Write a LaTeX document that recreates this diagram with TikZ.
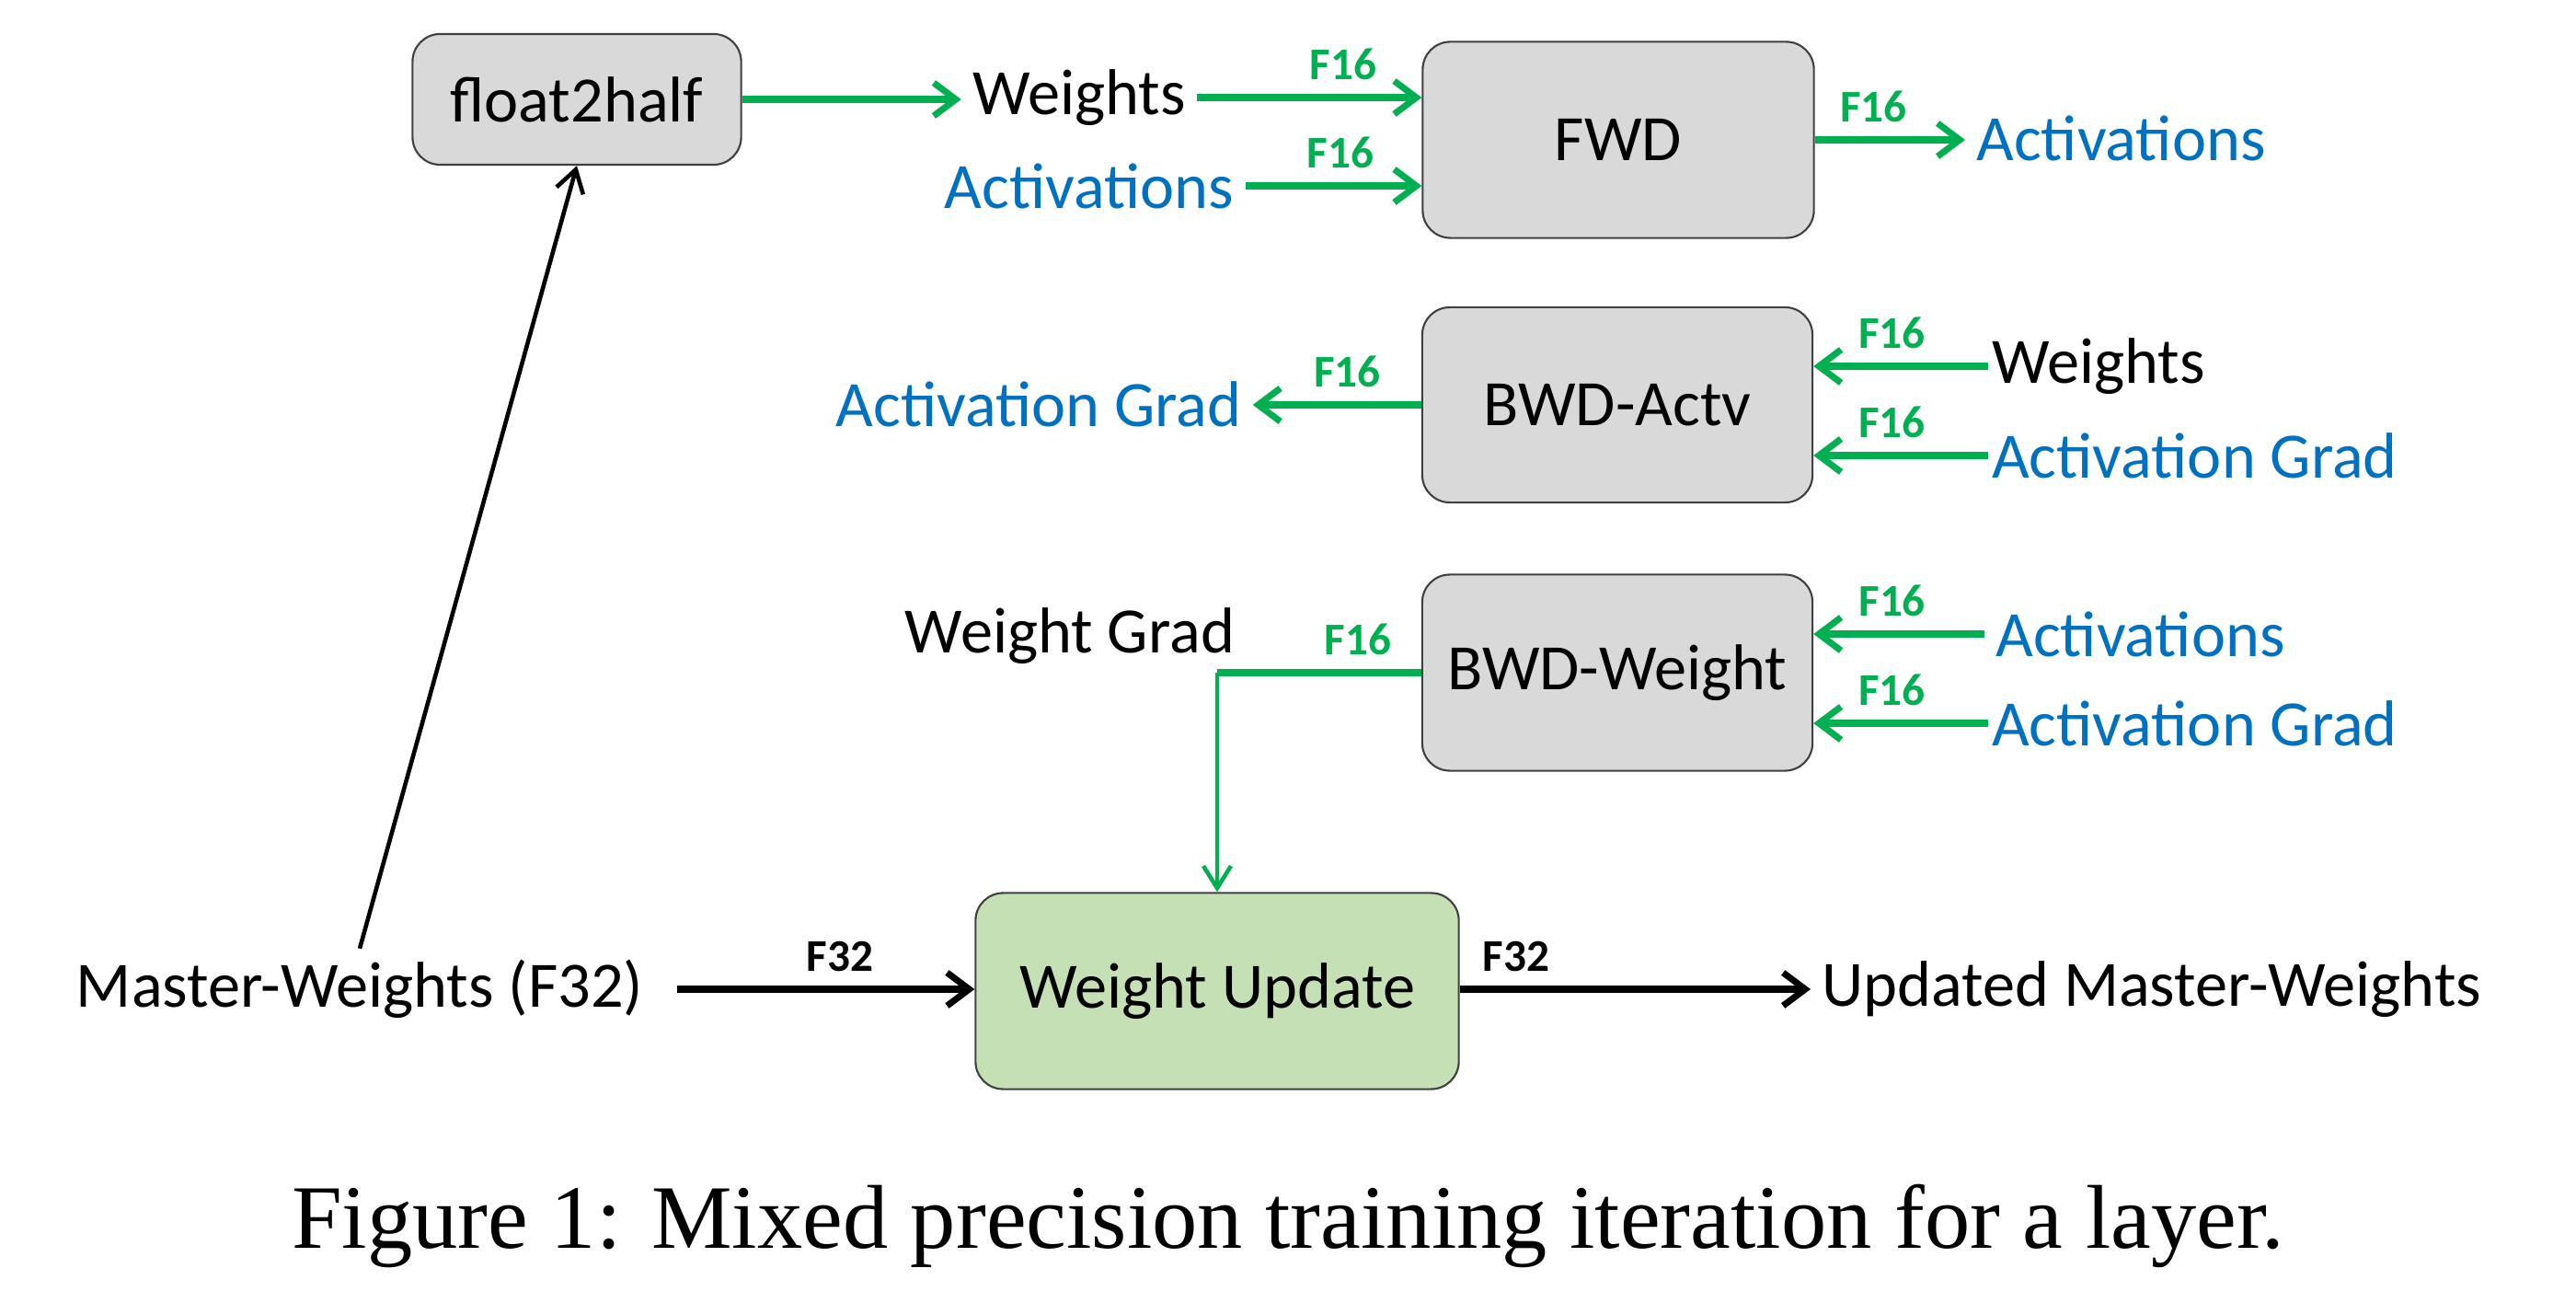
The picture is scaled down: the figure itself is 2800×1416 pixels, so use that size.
\documentclass[tikz,border=0pt]{standalone}
\usepackage{fontspec}
\setmainfont{Carlito}
\newfontfamily\capfont{Liberation Serif}
\usetikzlibrary{arrows.meta,positioning,calc}
\definecolor{halfgreen}{HTML}{00B050}
\definecolor{actblue}{HTML}{0070C0}
\definecolor{boxgray}{HTML}{D9D9D9}
\definecolor{updgreen}{HTML}{C5E0B4}

\tikzset{
 opbox/.style={draw=black!75,line width=0.6pt,fill=boxgray,rounded corners=0.3cm,
   inner sep=0pt,font=\fontsize{20}{24}\selectfont},
 lbl/.style={font=\fontsize{20}{24}\selectfont},
 blbl/.style={lbl,text=actblue},
 rlbl/.style={lbl,anchor=west,inner sep=1pt},
 prec/.style={font=\bfseries\fontsize{14}{16}\selectfont,text=halfgreen,above=1pt},
 prectwo/.style={prec,text=black},
 halfarrow/.style={halfgreen,line width=2pt,-{Straight Barb[length=0.24cm,width=0.36cm]}},
 fullarrow/.style={black,line width=2pt,-{Straight Barb[length=0.24cm,width=0.36cm]}},
 thinarrow/.style={line width=1.3pt,-{Straight Barb[length=0.24cm,width=0.3cm]}}
}

\begin{document}
\begin{tikzpicture}[x=0.01cm,y=-0.01cm]
 \useasboundingbox (0,0) rectangle (2800,1416);
 % operation boxes
 \node[opbox,minimum width=3.57cm,minimum height=1.42cm] (f2h) at (627,108) {float2half};
 \node[opbox,minimum width=4.25cm,minimum height=2.13cm] (fwd) at (1759,152) {FWD};
 \node[opbox,minimum width=4.24cm,minimum height=2.12cm] (bwda) at (1758,440) {BWD-Actv};
 \node[opbox,minimum width=4.24cm,minimum height=2.13cm] (bwdw) at (1758,731) {BWD-Weight};
 \node[opbox,fill=updgreen,minimum width=5.25cm,minimum height=2.13cm] (wu) at (1323,1077) {Weight Update};
 % forward pass
 \node[lbl] (fw) at (1173,106) {Weights};
 \node[blbl] (fa) at (1184,202) {Activations};
 \node[blbl,anchor=west] (fo) at (2136,150) {Activations};
 \draw[halfarrow] (f2h.east) -- (f2h.east -| fw.west);
 \draw[halfarrow] (fw.east) -- node[prec,pos=0.65]{F16} (fw.east -| fwd.west);
 \draw[halfarrow] (fa.east) -- node[prec,pos=0.54]{F16} (fa.east -| fwd.west);
 \draw[halfarrow] (fwd.east) -- node[prec,pos=0.39]{F16} (fwd.east -| fo.west);
 % backward, activations
 \node[blbl] (bag) at (1129,439) {Activation Grad};
 \node[rlbl] (bw) at (2161,398) {Weights};
 \node[rlbl,text=actblue] (bg) at (2161,495) {Activation Grad};
 \draw[halfarrow] (bwda.west) -- node[prec,pos=0.44]{F16} (bwda.west -| bag.east);
 \draw[halfarrow] (bw.west) -- node[prec,pos=0.55]{F16} (bw.west -| bwda.east);
 \draw[halfarrow] (bg.west) -- node[prec,pos=0.55]{F16} (bg.west -| bwda.east);
 % backward, weights
 \node[lbl] (wgr) at (1163,691) {Weight Grad};
 \node[blbl,anchor=west] (wa) at (2157,689) {Activations};
 \node[rlbl,text=actblue] (wg) at (2161,786) {Activation Grad};
 \draw[halfarrow] (wa.west) -- node[prec,pos=0.54]{F16} (wa.west -| bwdw.east);
 \draw[halfarrow] (wg.west) -- node[prec,pos=0.55]{F16} (wg.west -| bwdw.east);
 \coordinate (bend) at (bwdw.west -| wu.north);
 \draw[halfgreen,line width=2pt] (bwdw.west) -- node[prec,pos=0.31]{F16} (bend);
 \draw[thinarrow,halfgreen] (bend) -- (wu.north);
 % master weights
 \node[lbl] (mw) at (391,1075) {Master-Weights (F32)};
 \node[lbl,anchor=west] (umw) at (1968,1075) {Updated Master-Weights};
 \draw[fullarrow,shorten <=7pt] (mw.east) -- node[prectwo,pos=0.58]{F32} (mw.east -| wu.west);
 \draw[fullarrow] (wu.east |- umw.west) -- node[prectwo,pos=0.16]{F32} (umw.west);
 \draw[thinarrow] (mw.north) -- (f2h.south);
 % caption
 \node[font=\capfont\fontsize{28}{32}\selectfont] (cap) at (1400,1332)
   {Figure 1: Mixed precision training iteration for a layer.};
\end{tikzpicture}
\end{document}
